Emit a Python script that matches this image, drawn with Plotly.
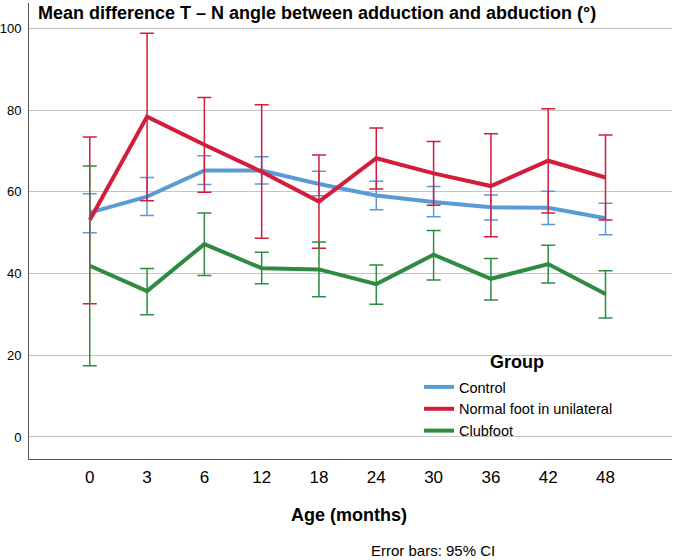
import plotly.graph_objects as go

ages = ["0", "3", "6", "12", "18", "24", "30", "36", "42", "48"]

control_mean = [54.9, 58.8, 65.2, 65.2, 61.9, 59.1, 57.5, 56.2, 56.1, 53.5]
control_lo = [50.0, 54.2, 61.8, 61.9, 59.0, 55.6, 53.9, 53.1, 52.0, 49.5]
control_hi = [59.5, 63.5, 68.8, 68.6, 65.0, 62.6, 61.3, 59.2, 60.1, 57.2]

normal_mean = [53.1, 78.4, 71.5, 64.9, 57.6, 68.2, 64.5, 61.4, 67.6, 63.5]
normal_lo = [32.6, 57.8, 59.9, 48.6, 46.2, 60.7, 56.7, 49.0, 54.8, 53.1]
normal_hi = [73.4, 98.8, 83.1, 81.3, 69.0, 75.6, 72.3, 74.2, 80.3, 73.9]

club_mean = [41.9, 35.7, 47.2, 41.3, 41.0, 37.4, 44.6, 38.7, 42.3, 35.0]
club_lo = [17.4, 29.9, 39.5, 37.5, 34.3, 32.5, 38.4, 33.5, 37.7, 29.1]
club_hi = [66.3, 41.2, 54.8, 45.2, 47.7, 42.1, 50.5, 43.7, 46.9, 40.7]

groups = [
    ("Control", control_mean, control_lo, control_hi, "#5b9bd5"),
    ("Normal foot in unilateral", normal_mean, normal_lo, normal_hi, "#d31d3c"),
    ("Clubfoot", club_mean, club_lo, club_hi, "#2e8b40"),
]

FONT = "Liberation Sans, Arial, sans-serif"

fig = go.Figure()
for name, m, lo, hi, col in groups:
    fig.add_trace(go.Scatter(
        x=ages, y=m, name=name, mode="lines",
        line=dict(color=col, width=4),
        error_y=dict(type="data", symmetric=False,
                     array=[h - v for h, v in zip(hi, m)],
                     arrayminus=[v - l for v, l in zip(m, lo)],
                     color=col, thickness=1.5, width=7),
    ))

L, R, T, B = 29, 1, 3, 101
PW, PH = 673 - L - R, 560 - T - B


def px(xp):
    return (xp - L) / PW


def py(yp):
    return (560 - B - yp) / PH


fig.update_layout(
    width=673, height=560,
    margin=dict(l=L, r=R, t=T, b=B),
    paper_bgcolor="white", plot_bgcolor="white",
    font=dict(family=FONT, color="#000000"),
    showlegend=True,
    legend=dict(x=px(419), y=py(371), xanchor="left", yanchor="top",
                bgcolor="rgba(0,0,0,0)", font=dict(size=14.5, family=FONT),
                itemwidth=30, tracegroupgap=0),
    xaxis=dict(type="category", range=[-1.06, 10.16], showgrid=False,
               showline=True, linecolor="#555555", linewidth=1,
               ticks="outside", ticklen=3, tickcolor="rgba(0,0,0,0)",
               tickfont=dict(size=17, family=FONT), zeroline=False,
               automargin=False),
    yaxis=dict(range=[-5.4, 106.2], tickvals=[0, 20, 40, 60, 80, 100],
               showgrid=True, gridcolor="#c4c4c4", gridwidth=1,
               showline=True, linecolor="#555555", linewidth=1,
               ticks="outside", ticklen=4, tickcolor="rgba(0,0,0,0)",
               tickfont=dict(size=13, family=FONT), zeroline=False,
               automargin=False),
    annotations=[
        dict(text="<b>Mean difference T \u2013 N angle between adduction and abduction (\u00b0)</b>",
             xref="paper", yref="paper", x=px(36), y=py(13.5),
             xanchor="left", yanchor="middle", showarrow=False,
             font=dict(size=18, family=FONT)),
        dict(text="<b>Group</b>", xref="paper", yref="paper",
             x=px(517), y=py(362),
             xanchor="center", yanchor="middle", showarrow=False,
             font=dict(size=18, family=FONT)),
        dict(text="<b>Age (months)</b>", xref="paper", yref="paper",
             x=px(349), y=py(515),
             xanchor="center", yanchor="middle", showarrow=False,
             font=dict(size=18, family=FONT)),
        dict(text="Error bars: 95% CI", xref="paper", yref="paper",
             x=px(369), y=py(550),
             xanchor="left", yanchor="middle", showarrow=False,
             font=dict(size=15, family=FONT)),
    ],
)

fig.write_html("out.html", config={"displayModeBar": False},
               post_script="document.body.style.margin='0';")
